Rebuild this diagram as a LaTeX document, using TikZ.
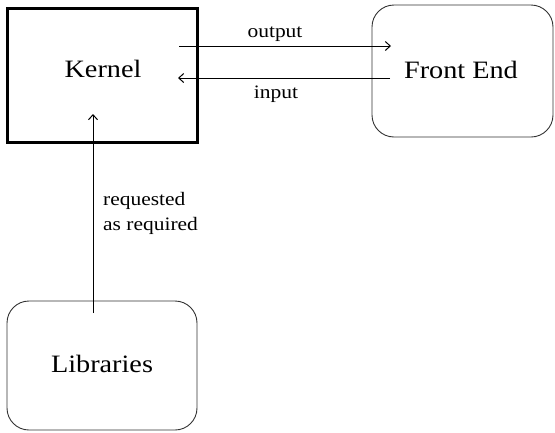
\documentclass[tikz,border=0pt]{standalone}
\usepackage{fontspec}
\setmainfont{Liberation Serif}
\newfontfamily\wideserif[FakeStretch=1.13]{Liberation Serif}
\usetikzlibrary{arrows.meta}
\begin{document}
\begin{tikzpicture}[x=1pt,y=-1pt,
  big/.style={font=\wideserif\fontsize{25}{30}\selectfont, inner sep=0pt},
  small/.style={font=\wideserif\fontsize{19}{25}\selectfont, inner sep=0pt},
  roundbox/.style={draw=black!80, line width=0.9pt, rounded corners=22pt, inner sep=0pt},
  arr/.style={-{Straight Barb[length=5pt,width=9pt]}, line width=1pt}]
\useasboundingbox (0,0) rectangle (555,432);
% boxes
\node[draw, line width=3pt, minimum width=190pt, minimum height=134pt, inner sep=0pt] (kbox) at (102,75) {};
\node[roundbox, minimum width=181pt, minimum height=132pt] (fbox) at (462.5,71) {};
\node[roundbox, minimum width=190pt, minimum height=129pt] (lbox) at (102,365.5) {};
% texts
\node[big, anchor=base] (kernel) at (103,77) {Kernel};
\node[big, anchor=base] (front) at (461,78) {Front End};
\node[big, anchor=base] (libs) at (102,372) {Libraries};
\node[small, anchor=base] (outl) at (275,37) {output};
\node[small, anchor=base] (inl) at (276,98) {input};
\node[small, anchor=base west] (req1) at (103,205) {requested};
\node[small, anchor=base west] (req2) at (103,230) {as required};
% connector ends
\coordinate (outS) at (179,46);
\coordinate (outE) at (391,46);
\coordinate (inS) at (390,78);
\coordinate (inE) at (178,78);
\coordinate (upS) at (93,313);
\coordinate (upE) at (93,114);
\draw[arr] (outS) -- (outE);
\draw[arr] (inS) -- (inE);
\draw[arr] (upS) -- (upE);
\end{tikzpicture}
\end{document}
